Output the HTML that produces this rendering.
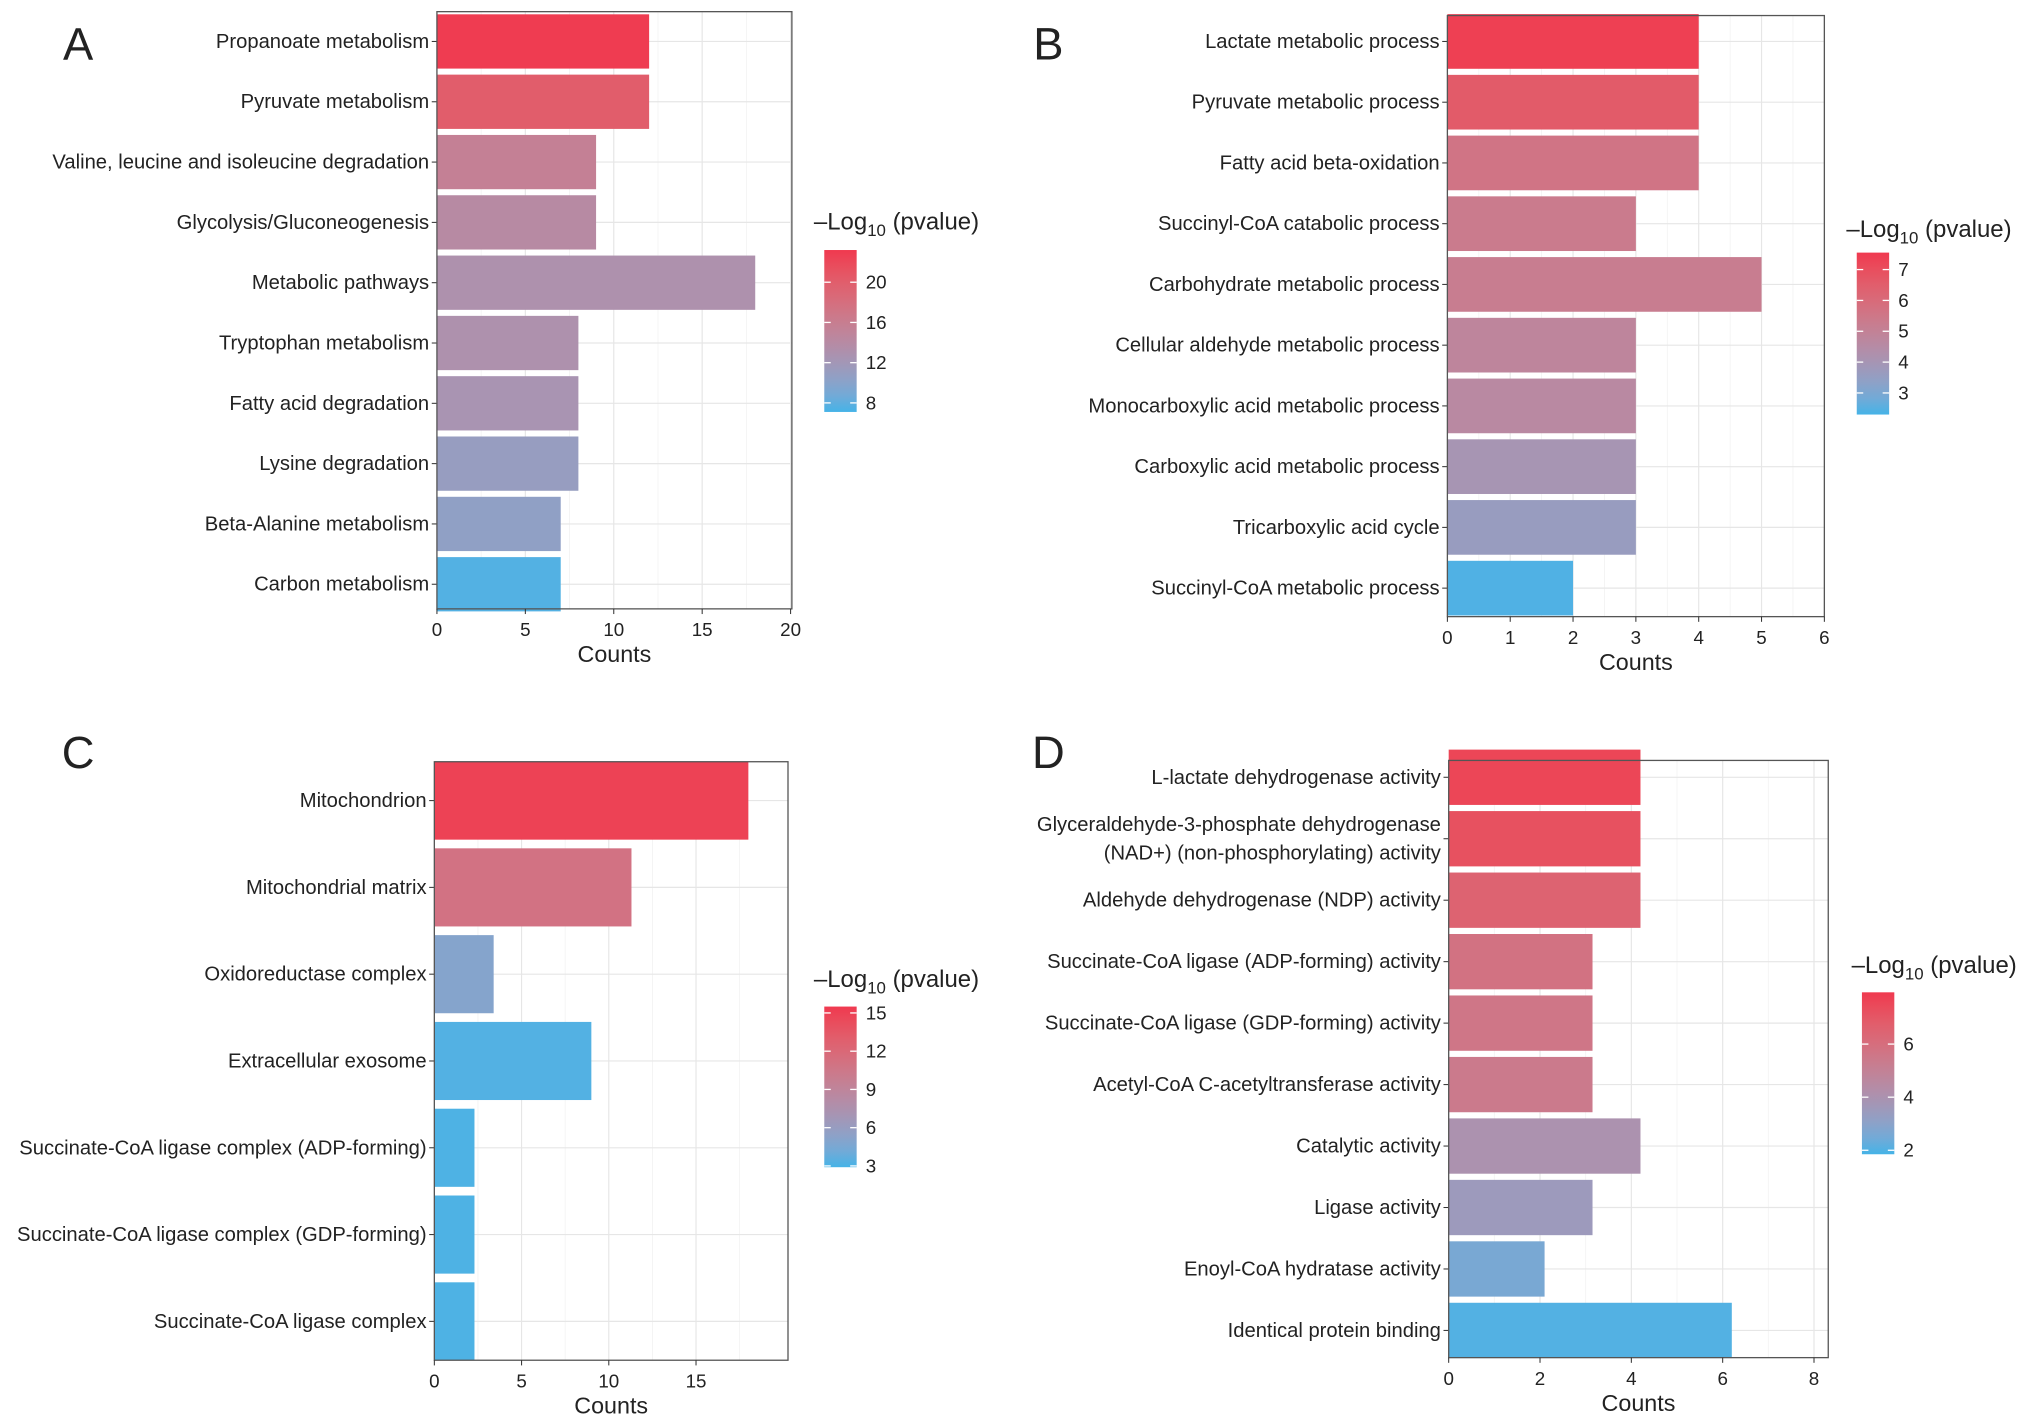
<!DOCTYPE html>
<html><head><meta charset="utf-8"><style>
html,body{margin:0;padding:0;background:#fff}
svg{display:block}
text{font-family:"Liberation Sans",Arial,sans-serif;fill:#222}
</style></head><body>
<svg id="fig" width="2032" height="1425" viewBox="0 0 1568 1100" xmlns="http://www.w3.org/2000/svg"></svg>
<script>
// Panel A data
const catsA = ["Propanoate metabolism","Pyruvate metabolism","Valine, leucine and isoleucine degradation","Glycolysis/Gluconeogenesis","Metabolic pathways","Tryptophan metabolism","Fatty acid degradation","Lysine degradation","Beta-Alanine metabolism","Carbon metabolism"];
const countsA = [12,12,9,9,18,8,8,8,7,7];
const pvalA = [23,20,15.5,14,13,13,12.5,11,10.5,7.5];
const xTicksA = [0,5,10,15,20];
const legTicksA = [8,12,16,20];
// Panel B data
const catsB = ["Lactate metabolic process","Pyruvate metabolic process","Fatty acid beta-oxidation","Succinyl-CoA catabolic process","Carbohydrate metabolic process","Cellular aldehyde metabolic process","Monocarboxylic acid metabolic process","Carboxylic acid metabolic process","Tricarboxylic acid cycle","Succinyl-CoA metabolic process"];
const countsB = [4,4,4,3,5,3,3,3,3,2];
const pvalB = [7.4,6.6,5.6,5.3,5.2,4.8,4.6,4.0,3.6,2.4];
const xTicksB = [0,1,2,3,4,5,6];
const legTicksB = [3,4,5,6,7];
// Panel C data
const catsC = ["Mitochondrion","Mitochondrial matrix","Oxidoreductase complex","Extracellular exosome","Succinate-CoA ligase complex (ADP-forming)","Succinate-CoA ligase complex (GDP-forming)","Succinate-CoA ligase complex"];
const countsC = [18,11.3,3.4,9,2.3,2.3,2.3];
const pvalC = [15,11,5,3.2,3.1,3.1,3.1];
const xTicksC = [0,5,10,15];
const legTicksC = [3,6,9,12,15];
// Panel D data
const catsD = ["L-lactate dehydrogenase activity","Glyceraldehyde-3-phosphate dehydrogenase|(NAD+) (non-phosphorylating) activity","Aldehyde dehydrogenase (NDP) activity","Succinate-CoA ligase (ADP-forming) activity","Succinate-CoA ligase (GDP-forming) activity","Acetyl-CoA C-acetyltransferase activity","Catalytic activity","Ligase activity","Enoyl-CoA hydratase activity","Identical protein binding"];
const countsD = [4.2,4.2,4.2,3.15,3.15,3.15,4.2,3.15,2.1,6.2];
const pvalD = [7.6,7.2,6.5,5.8,5.6,5.4,4.0,3.5,2.6,2.0];
const xTicksD = [0,2,4,6,8];
const legTicksD = [2,4,6];

const NS="http://www.w3.org/2000/svg";
const svg=document.getElementById('fig');
function mk(tag,attrs,parent){const e=document.createElementNS(NS,tag);for(const k in attrs)e.setAttribute(k,attrs[k]);(parent||svg).appendChild(e);return e;}
function hex(c){return [parseInt(c.slice(1,3),16),parseInt(c.slice(3,5),16),parseInt(c.slice(5,7),16)];}
function toLin(c){c/=255;return c<=0.04045?c/12.92:Math.pow((c+0.055)/1.055,2.4);}
function fromLin(c){c=c<=0.0031308?12.92*c:1.055*Math.pow(c,1/2.4)-0.055;return Math.round(Math.max(0,Math.min(1,c))*255);}
function rgb2lab(rgb){const [r,g,b]=rgb.map(toLin);
 let x=(0.4124*r+0.3576*g+0.1805*b)/0.95047,y=(0.2126*r+0.7152*g+0.0722*b),z=(0.0193*r+0.1192*g+0.9505*b)/1.08883;
 const f=t=>t>0.008856?Math.cbrt(t):7.787*t+16/116;
 return [116*f(y)-16,500*(f(x)-f(y)),200*(f(y)-f(z))];}
function lab2rgb(l){const fy=(l[0]+16)/116,fx=fy+l[1]/500,fz=fy-l[2]/200;
 const g=t=>t*t*t>0.008856?t*t*t:(t-16/116)/7.787;
 const x=g(fx)*0.95047,y=g(fy),z=g(fz)*1.08883;
 const r=3.2406*x-1.5372*y-0.4986*z,gg=-0.9689*x+1.8758*y+0.0415*z,b=0.0557*x-0.2040*y+1.0570*z;
 return [fromLin(r),fromLin(gg),fromLin(b)];}
const LO=rgb2lab(hex('#45B3E7')),HI=rgb2lab(hex('#F0394F'));
function colorAt(t){t=Math.max(0,Math.min(1,t));
 return 'rgb('+lab2rgb(LO.map((v,i)=>v+(HI[i]-v)*t)).join(',')+')';}

function panel(o){
  const g=mk('g',{});
  
  
  const xs=v=>o.x0+(v-o.xmin)*(o.xTickPx);
  const n=o.cats.length;
  const step=(o.yLast-o.yFirst)/(n-1);
  const ys=i=>o.yFirst+i*step;
  const bw=step*0.9;
  mk('rect',{x:o.x0,y:o.top,width:o.right-o.x0,height:o.bottom-o.top,fill:'#fff'},g);
  const gt=o.ticks;
  for(let k=0;k<gt.length;k++){
    const x=xs(gt[k]);
    const gl=mk('line',{x1:x,x2:x,y1:o.top,y2:o.bottom,stroke:'#e6e6e6','stroke-width':0.9},g);
    
    const mv=gt[k]+(gt[1]-gt[0])/2, mx=xs(mv);
    if(mx<o.right){const ml=mk('line',{x1:mx,x2:mx,y1:o.top,y2:o.bottom,stroke:'#f2f2f2','stroke-width':0.6},g);
      }
  }
  for(let i=0;i<n;i++){
    const l=mk('line',{x1:o.x0,x2:o.right,y1:ys(i),y2:ys(i),stroke:'#e6e6e6','stroke-width':0.9},g);
    
  }
  for(let i=0;i<n;i++){
    const t=(o.pv[i]-o.lmin)/(o.lmax-o.lmin);
    const r=mk('rect',{x:xs(0),y:ys(i)-bw/2,width:xs(o.counts[i])-xs(0),height:bw,fill:colorAt(t)},g);
    
    
    mk('line',{x1:o.x0-4,x2:o.x0,y1:ys(i),y2:ys(i),stroke:'#333','stroke-width':0.8},g);
    const parts=o.cats[i].split('|');
    parts.forEach((p,j)=>{
      const tx=mk('text',{x:o.x0-6,y:ys(i)+5+(j-(parts.length-1)/2)*22,'text-anchor':'end','font-size':15.6},g);
      tx.textContent=p;
      
      
    });
  }
  mk('rect',{x:o.x0,y:o.top,width:o.right-o.x0,height:o.bottom-o.top,fill:'none',stroke:'#555','stroke-width':1},g);
  gt.forEach(v=>{
    const x=xs(v);
    mk('line',{x1:x,x2:x,y1:o.bottom,y2:o.bottom+4,stroke:'#333','stroke-width':0.8},g);
    const t=mk('text',{x:x,y:o.bottom+21,'text-anchor':'middle','font-size':14.5},g);
    t.textContent=v;
    
    
  });
  const xt=mk('text',{x:(o.x0+o.right)/2,y:o.bottom+41,'text-anchor':'middle','font-size':18},g);
  xt.textContent='Counts';
  
  
  const lt=mk('text',{x:o.lx,y:o.ly,'text-anchor':'middle','font-size':35},g);
  lt.textContent=o.id;
  
  
  const lg=mk('g',{},g);
  
  
  const tt=mk('text',{x:o.legX-8,y:o.legTitleY,'font-size':18.5},lg);
  tt.innerHTML='\u2013Log<tspan font-size="13" dy="5">10</tspan><tspan dy="-5"> (pvalue)</tspan>';
  
  
  const gid='grad'+o.id;
  const lgr=mk('linearGradient',{id:gid,x1:0,y1:1,x2:0,y2:0},lg);
  for(let s=0;s<=10;s++){mk('stop',{offset:s/10,'stop-color':colorAt(s/10)},lgr);}
  const cb=mk('rect',{x:o.legX,y:o.legTop,width:25,height:o.legBot-o.legTop,fill:'url(#'+gid+')'},lg);
  
  
  const ly=v=>o.legBot-(v-o.lmin)/(o.lmax-o.lmin)*(o.legBot-o.legTop);
  o.legTicks.forEach(v=>{
    const y=ly(v);
    mk('line',{x1:o.legX,x2:o.legX+5,y1:y,y2:y,stroke:'#fff','stroke-width':1},lg);
    mk('line',{x1:o.legX+20,x2:o.legX+25,y1:y,y2:y,stroke:'#fff','stroke-width':1},lg);
    const t=mk('text',{x:o.legX+32,y:y+5,'font-size':14.5},lg);
    t.textContent=v;
    
    
  });
}

panel({id:'A',cats:catsA,counts:countsA,pv:pvalA,ticks:xTicksA,legTicks:legTicksA,xmin:0,
  x0:337,right:611,xTickPx:(610-337)/20,top:9,bottom:470,yFirst:32,yLast:451,
  lmin:7.1,lmax:23.2,legX:636,legTop:193,legBot:318,legTitleY:177,lx:60,ly:46});
panel({id:'B',cats:catsB,counts:countsB,pv:pvalB,ticks:xTicksB,legTicks:legTicksB,xmin:0,
  x0:1117,right:1408,xTickPx:(1408-1117)/6,top:12,bottom:476,yFirst:32,yLast:454,
  lmin:2.3,lmax:7.55,legX:1433,legTop:195,legBot:320,legTitleY:183,lx:809,ly:46});
panel({id:'C',cats:catsC,counts:countsC,pv:pvalC,ticks:xTicksC,legTicks:legTicksC,xmin:0,
  x0:335,right:608,xTickPx:(537-335)/15,top:588,bottom:1050,yFirst:618,yLast:1020,
  lmin:2.9,lmax:15.5,legX:636,legTop:777,legBot:901,legTitleY:762,lx:60,ly:593});
panel({id:'D',cats:catsD,counts:countsD,pv:pvalD,ticks:xTicksD,legTicks:legTicksD,xmin:0,
  x0:1118,right:1411,xTickPx:(1400-1118)/8,top:587,bottom:1048,yFirst:600,yLast:1027,
  lmin:1.85,lmax:7.95,legX:1437,legTop:766,legBot:891,legTitleY:751,lx:809,ly:593});
</script>
</body></html>
